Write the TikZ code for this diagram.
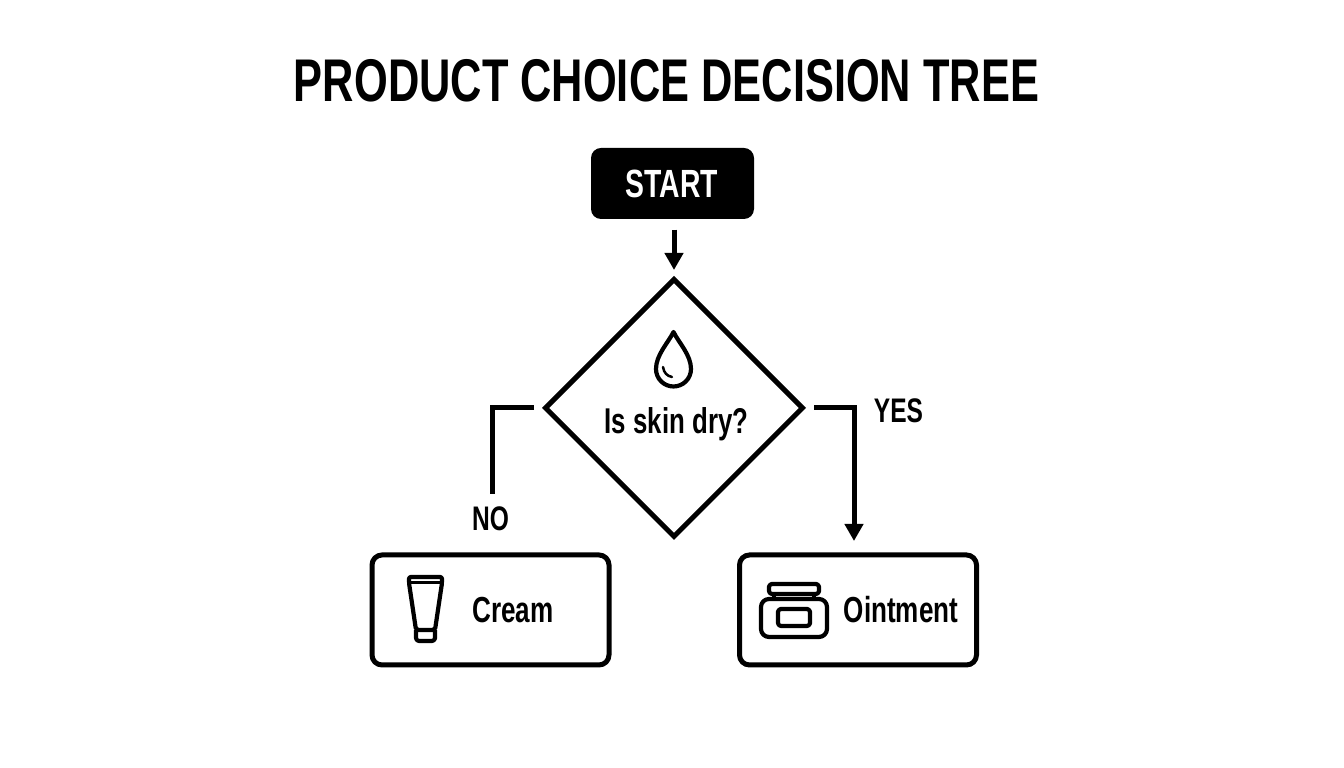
\documentclass[tikz,border=0pt]{standalone}
\usepackage{fontspec}
\setmainfont{Liberation Sans}[FakeStretch=0.72]
\usetikzlibrary{arrows.meta,shapes.geometric}
\tikzset{
	label/.style={inner sep=0, font=\bfseries\fontsize{#1}{#1}\selectfont},
	conn/.style={line width=0.5mm, color=black},
	icon/.style={line width=0.42mm, color=black, line join=round, rounded corners=0.3mm},
	outcome/.style={draw, line width=0.5mm, rounded corners=1mm, minimum width=2.37cm, minimum height=1.1cm, inner sep=0},
	tip/.style={-{Triangle[width=1.8mm, length=1.7mm]}}
}

\begin{document}
\begin{tikzpicture}
		%%%%% START %%%%%
		\useasboundingbox (0, 0) rectangle (13.44, 7.68);
		
		\node[label=17.15pt] (title) at (6.665, 6.87) {PRODUCT CHOICE DECISION TREE};
		
		\node[fill=black, rounded corners=1mm, minimum width=1.63cm, minimum height=0.71cm, inner sep=0] (start) at (6.725, 5.845) {};
		\node[label=11.2pt, color=white] (startlabel) at (6.72, 5.845) {START};
		
		\node[draw, diamond, line width=0.5mm, line join=miter, minimum width=2.59cm, minimum height=2.59cm, inner sep=0] (dry) at (6.74, 3.6) {};
		\node[label=10.2pt] (drylabel) at (6.765, 3.44) {Is skin dry?};
		
		\node[outcome] (cream) at (4.905, 1.58) {};
		\node[outcome] (ointment) at (8.58, 1.58) {};
		\node[label=10.3pt] (creamlabel) at (5.13, 1.58) {Cream};
		\node[label=10.3pt] (ointmentlabel) at (9.01, 1.58) {Ointment};
		
		\node[label=9.7pt] (no) at (4.905, 2.49) {NO};
		\node[label=9.7pt] (yes) at (8.985, 3.57) {YES};
		\coordinate (noend) at (4.92, 2.74);
		\coordinate (yesend) at (8.54, 2.27);
		
		\draw[conn, tip, shorten <=0.1cm, shorten >=0.06cm] (start.south -| dry.north) -- (dry.north);
		\draw[conn, shorten <=0.08cm] (dry.west) -| (noend);
		\draw[conn, tip, shorten <=0.08cm] (dry.east) -| (yesend);
		
		% drop
		\draw[icon, rounded corners=0] (6.735, 4.36) .. controls (6.68, 4.25) and (6.56, 4.13) .. (6.56, 3.99) arc (180:360:0.175) .. controls (6.91, 4.13) and (6.79, 4.25) .. (6.735, 4.36) -- cycle;
		\draw[line width=0.25mm, line cap=round] (6.63, 4.01) .. controls (6.64, 3.95) and (6.67, 3.92) .. (6.72, 3.91);
		
		% tube
		\draw[icon, rounded corners=0.2mm] (4.09, 1.91) -- (4.42, 1.91) -- (4.42, 1.85) -- (4.35, 1.38) -- (4.16, 1.38) -- (4.09, 1.85) -- cycle;
		\draw[line width=0.3mm] (4.09, 1.85) -- (4.42, 1.85);
		\draw[icon] (4.16, 1.38) -- (4.16, 1.27) -- (4.35, 1.27) -- (4.35, 1.38);
		
		% jar
		\draw[icon, rounded corners=0.3mm] (7.69, 1.84) rectangle (8.19, 1.74);
		\draw[icon] (7.74, 1.74) -- (7.74, 1.69);
		\draw[icon] (8.14, 1.74) -- (8.14, 1.69);
		\draw[icon, rounded corners=0.8mm] (7.61, 1.69) rectangle (8.27, 1.31);
		\draw[icon] (7.78, 1.59) rectangle (8.1, 1.42);
		
		%%%%% END %%%%%
	\end{tikzpicture}
\end{document}
